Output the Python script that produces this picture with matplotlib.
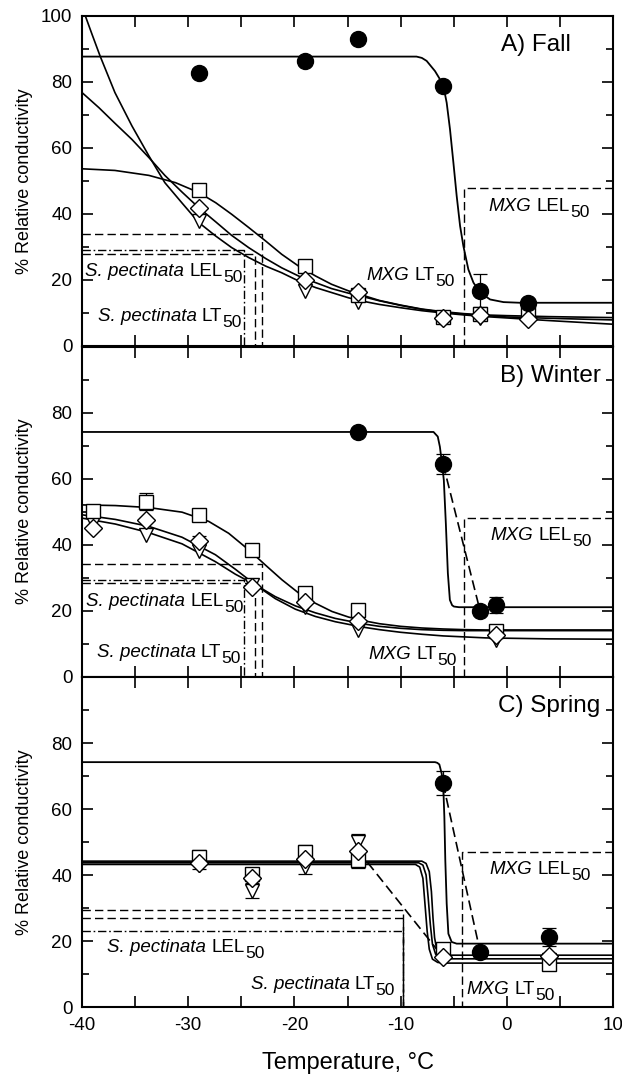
import matplotlib
matplotlib.use("Agg")
import matplotlib.pyplot as plt

plt.rcParams['font.family'] = ['Liberation Sans', 'DejaVu Sans']
plt.rcParams['axes.unicode_minus'] = False

# --- data ---
# A) Fall
temps_A = [-29, -19, -14, -6, -2.5, 2]
mxg_A = [82.7, 86.5, 92.9, 78.8, 16.7, 13.1]
mxg_err_A = [0, 0, 0, 0, 5.0, 0]
sq_A = [47.4, 24.2, 15.5, 8.8, 9.8, 10.4]
di_A = [41.9, 19.9, 16.5, 8.6, 9.3, 8.2]
tr_A = [37.9, 16.8, 13.3, 8.3, 8.6, 9.0]

mxg_fit_A_x = [-40, -8.5, -8.0, -7.55, -6.76, -6.29, -5.97, -5.66, -5.35, -5.03, -4.72,
               -4.40, -4.09, -3.62, -3.14, -2.52, -1.57, -0.31, 1.26, 10]
mxg_fit_A_y = [87.7, 87.7, 87.3, 86.4, 83.3, 80.8, 78.8, 73.7, 65.7, 55.6, 45.5,
               36.4, 30.3, 23.2, 19.2, 16.2, 14.1, 13.3, 13.1, 13.1]
sq_fit_A_x = [-40, -36.9, -33.7, -31.2, -29.0, -27.4, -25.9, -24.3, -22.7, -21.2, -19.6,
              -18.0, -16.5, -14.9, -13.6, -12, -10, -8, -6, -4, -2, 0, 4, 10]
sq_fit_A_y = [53.7, 53.2, 51.7, 49.5, 46.5, 43.4, 39.9, 35.9, 31.8, 27.8, 24.2,
              21.2, 18.7, 16.7, 15.4, 13.8, 12.4, 11.2, 10.4, 9.8, 9.4, 9.2, 8.9, 8.6]
di_fit_A_x = [-40, -38.4, -36.9, -35.3, -33.7, -32.2, -30.6, -29.0, -27.4, -25.9, -24.3,
              -22.7, -21.2, -19.6, -18.0, -16.5, -14.9, -13.6, -12, -10, -8, -6, -4, -2, 0, 4, 10]
di_fit_A_y = [76.8, 72.2, 67.5, 62.6, 57.1, 51.7, 46.7, 41.9, 37.6, 33.5, 29.8,
              26.5, 23.7, 21.2, 19.2, 17.4, 16.0, 15.0, 13.7, 12.3, 11.1, 10.2, 9.6, 9.2, 8.8, 8.4, 7.9]
tr_fit_A_x = [-40, -39.05, -38.3, -36.9, -35.3, -33.7, -32.2, -30.6, -29.0, -27.4, -25.9, -24.3,
              -22.7, -21.2, -19.6, -18.0, -16.5, -14.9, -13.6, -12, -10, -8, -6, -4, -2, 0, 4, 10]
tr_fit_A_y = [102.8, 94.4, 87.9, 76.8, 66.7, 57.6, 49.5, 43.4, 37.4, 33.3, 29.8, 26.8,
              24.2, 22.2, 19.7, 17.7, 16.2, 14.6, 13.6, 12.6, 11.6, 10.7, 10.0, 9.4, 8.9, 8.5, 7.7, 6.6]

# B) Winter
temps_B = [-39, -34, -29, -24, -19, -14, -1]
sq_B = [50.2, 53.0, 49.0, 38.4, 25.3, 20.2, 13.9]
sq_err_B = [1.5, 2.5, 1.5, 0.8, 1.2, 1.0, 1.0]
di_B = [44.9, 47.3, 41.2, 27.1, 22.7, 16.7, 12.6]
di_err_B = [0, 0, 1.5, 0, 0, 0, 0]
tr_B = [46.5, 42.9, 37.9, 27.8, 21.2, 14.1, 11.1]
mxg_temps_B = [-14, -6, -2.5, -1]
mxg_B = [74.1, 64.4, 19.7, 21.7]
mxg_err_B = [0, 2.9, 0, 2.4]

mxg_fit_B_x = [-40, -6.9, -6.5, -6.3, -6.1, -5.93, -5.74, -5.55, -5.36, -5.15, -4.98, -4.5, 10]
mxg_fit_B_y = [74.1, 74.1, 72.7, 69.6, 64.5, 59.5, 46.4, 31.3, 23.2, 21.6, 21.2, 21.0, 21.0]
sq_fit_B_x = [-40, -36.86, -33.72, -30.58, -28.07, -26.19, -24.31, -22.74, -21.17, -19.60,
              -18.03, -16.46, -14.89, -13.63, -12, -10, -8, -6, -4, -2, 0, 4, 10]
sq_fit_B_y = [52.0, 51.8, 51.2, 49.8, 47.0, 43.4, 38.4, 33.8, 29.3, 25.3,
              22.2, 19.7, 18.0, 17.0, 16.0, 15.2, 14.7, 14.4, 14.2, 14.1, 14.1, 14.1, 14.1]
lo_fit_B_x = [-40, -36.86, -33.72, -30.58, -27.44, -25.56, -23.68, -21.80, -19.91, -18.03,
              -16.15, -13.63, -12, -10, -8, -6, -4, -2, 0, 4, 10]
di_fit_B_y = [49.0, 47.6, 45.5, 42.2, 36.9, 32.5, 27.8, 23.6, 20.4, 18.2,
              16.6, 15.0, 14.2, 13.4, 12.8, 12.3, 12.0, 11.7, 11.6, 11.4, 11.3]
tr_fit_B_y = [48.0, 46.2, 43.6, 40.2, 34.8, 31.0, 27.8, 24.2, 21.4, 19.3,
              17.6, 16.0, 15.2, 14.6, 14.2, 14.0, 13.9, 13.9, 13.9, 13.9, 13.9]

# C) Spring
temps_C = [-29, -24, -19, -14, -6, 4]
sq_C = [45.4, 40.2, 46.9, 44.4, 17.6, 13.1]
sq_err_C = [2.2, 1.7, 2.3, 2.2, 1.0, 1.0]
di_C = [43.6, 39.2, 44.9, 47.4, 15.1, 15.6]
tr_C = [42.9, 35.3, 42.4, 49.9, 17.2, 14.1]
tr_err_C = [1.0, 2.3, 2.0, 2.4, 1.0, 1.0]
mxg_temps_C = [-6, -2.5, 4]
mxg_C = [67.8, 16.6, 21.2]
mxg_err_C = [3.6, 0, 2.7]

mxg_fit_C_x = [-40, -6.76, -6.55, -6.35, -6.13, -5.97, -5.88, -5.79, -5.66, -5.50, -5.19, -4.72, 10]
mxg_fit_C_y = [74.2, 74.2, 74.0, 73.5, 70.7, 65.7, 57.6, 44.4, 31.3, 22.2, 19.7, 19.2, 19.2]
c1_fit_C_x = [-40, -8.0, -7.6, -7.3, -7.1, -6.95, -6.8, -6.6, -6.3, -5.8, 10]
c1_fit_C_y = [44.2, 44.2, 43.5, 41.0, 35.0, 27.0, 21.0, 17.5, 16.0, 15.7, 15.7]
c2_fit_C_x = [-40, -8.3, -7.9, -7.6, -7.4, -7.2, -7.0, -6.7, -6.3, -5.8, 10]
c2_fit_C_y = [43.7, 43.7, 43.0, 40.0, 33.0, 25.0, 19.0, 16.0, 14.8, 14.6, 14.6]
c3_fit_C_x = [-40, -8.6, -8.2, -7.9, -7.7, -7.5, -7.3, -7.0, -6.5, -5.8, 10]
c3_fit_C_y = [43.2, 43.2, 42.4, 39.0, 31.0, 23.0, 17.5, 14.5, 13.5, 13.3, 13.3]

# LT50 / LEL50 reference levels (y level, temperature)
sp_y_A = [33.8, 29.0, 28.0]
sp_x_A = [-23.05, -24.7, -23.75]
sp_y_B = [34.1, 29.3, 28.3]
sp_x_B = [-23.05, -24.7, -23.75]
sp_y_C = [29.3, 27.0, 23.1]
sp_x_C = [-9.8, -9.8, -9.8]
mxg_lel_y = [48.0, 47.9, 47.0]
mxg_lel_x = [-4.05, -4.05, -4.2]

panel_titles = ['A) Fall', 'B) Winter', 'C) Spring']

DASH = (6, 3)
DASHDOT = (6, 2, 1.2, 2)


def sub_label(ax, x, y, ital, plain):
    t1 = ax.text(x, y, ital, fontsize=13.5, style='italic', ha='left', va='baseline')
    t2 = ax.annotate(plain, xy=(1, 0), xycoords=t1, xytext=(3.7, 0),
                     textcoords='offset points', fontsize=13.5, ha='left', va='bottom')
    ax.annotate('50', xy=(1, 0), xycoords=t2, xytext=(0.3, -3.6),
                textcoords='offset points', fontsize=12.5, ha='left', va='bottom')


def errbars(ax, x, y, e):
    xs = [a for a, b in zip(x, e) if b > 0]
    ys = [a for a, b in zip(y, e) if b > 0]
    es = [b for b in e if b > 0]
    if xs:
        ax.errorbar(xs, ys, yerr=es, fmt='none', ecolor='k', elinewidth=0.9,
                    capsize=5, capthick=0.9, zorder=2.5)


def open_markers(ax, x, sq, di, tr):
    ax.plot(x, tr, 'v', ms=10, mfc='white', mec='k', mew=1, zorder=3)
    ax.plot(x, sq, 's', ms=9.5, mfc='white', mec='k', mew=1, zorder=3.1)
    ax.plot(x, di, 'D', ms=9, mfc='white', mec='k', mew=1, zorder=3.2)


def sp_lines(ax, ys, xs, styles):
    for yl, xe, st in zip(ys, xs, styles):
        ax.plot([-40, xe, xe], [yl, yl, 0], color='k', lw=1, dashes=st, zorder=1.5)


def mxg_box(ax, yl, xe):
    ax.plot([10, xe, xe], [yl, yl, 0], color='k', lw=1, dashes=DASH, zorder=1.5)


fig = plt.figure(figsize=(6.22, 10.85), dpi=100)
left = 82 / 622
width = 531 / 622
h = 330 / 1085
bottoms = [(1085 - 346) / 1085, (1085 - 676.5) / 1085, (1085 - 1007) / 1085]
axes = [fig.add_axes([left, b, width, h]) for b in bottoms]

for i, ax in enumerate(axes):
    ax.set_xlim(-40, 10)
    ax.set_ylim(0, 100)
    ax.set_xticks(range(-40, 11, 10))
    ax.set_xticks(range(-35, 10, 10), minor=True)
    if i == 0:
        ax.set_yticks(range(0, 101, 20))
    else:
        ax.set_yticks(range(0, 81, 20))
    ax.set_yticks(range(10, 100, 20), minor=True)
    ax.tick_params(which='both', direction='in', top=True, right=True, width=1.2,
                   labelsize=13.5, pad=7)
    ax.tick_params(axis='x', which='both', length=8)
    ax.tick_params(axis='y', which='major', length=8)
    ax.tick_params(axis='y', which='minor', length=5)
    if i < 2:
        ax.tick_params(axis='x', labelbottom=False)
    for s in ax.spines.values():
        s.set_linewidth(1.5)
    ax.set_ylabel('% Relative conductivity', fontsize=13)
    ax.yaxis.set_label_coords(-0.092, 0.5)

# --- A) Fall ---
ax = axes[0]
sp_lines(ax, sp_y_A, sp_x_A, [DASH, DASHDOT, DASH])
mxg_box(ax, mxg_lel_y[0], mxg_lel_x[0])
ax.plot(mxg_fit_A_x, mxg_fit_A_y, 'k-', lw=1.3, zorder=2)
ax.plot(sq_fit_A_x, sq_fit_A_y, 'k-', lw=1.2, zorder=2)
ax.plot(di_fit_A_x, di_fit_A_y, 'k-', lw=1.2, zorder=2)
ax.plot(tr_fit_A_x, tr_fit_A_y, 'k-', lw=1.2, zorder=2)
errbars(ax, temps_A, mxg_A, mxg_err_A)
open_markers(ax, temps_A, sq_A, di_A, tr_A)
ax.plot(temps_A, mxg_A, 'o', ms=11.5, color='k', zorder=4)
sub_label(ax, -39.7, 21.2, 'S. pectinata', 'LEL')
sub_label(ax, -38.5, 7.5, 'S. pectinata', 'LT')
sub_label(ax, -1.7, 41.0, 'MXG', 'LEL')
sub_label(ax, -13.2, 20.0, 'MXG', 'LT')
ax.text(6.0, 89.3, panel_titles[0], fontsize=17.5, ha='right', va='baseline')

# --- B) Winter ---
ax = axes[1]
sp_lines(ax, sp_y_B, sp_x_B, [DASH, DASHDOT, DASH])
mxg_box(ax, mxg_lel_y[1], mxg_lel_x[1])
ax.plot(mxg_fit_B_x, mxg_fit_B_y, 'k-', lw=1.3, zorder=2)
ax.plot(mxg_temps_B[1:3], mxg_B[1:3], color='k', lw=1.2, dashes=DASH, zorder=2)
ax.plot(sq_fit_B_x, sq_fit_B_y, 'k-', lw=1.2, zorder=2)
ax.plot(lo_fit_B_x, di_fit_B_y, 'k-', lw=1.2, zorder=2)
ax.plot(lo_fit_B_x, tr_fit_B_y, 'k-', lw=1.2, zorder=2)
errbars(ax, temps_B, sq_B, sq_err_B)
errbars(ax, temps_B, di_B, di_err_B)
errbars(ax, mxg_temps_B, mxg_B, mxg_err_B)
open_markers(ax, temps_B, sq_B, di_B, tr_B)
ax.plot(mxg_temps_B, mxg_B, 'o', ms=11.5, color='k', zorder=4)
sub_label(ax, -39.6, 21.4, 'S. pectinata', 'LEL')
sub_label(ax, -38.6, 5.9, 'S. pectinata', 'LT')
sub_label(ax, -1.5, 41.4, 'MXG', 'LEL')
sub_label(ax, -13.0, 5.3, 'MXG', 'LT')
ax.text(8.9, 89.2, panel_titles[1], fontsize=17.5, ha='right', va='baseline')

# --- C) Spring ---
ax = axes[2]
sp_lines(ax, sp_y_C, sp_x_C, [DASH, DASH, DASHDOT])
mxg_box(ax, mxg_lel_y[2], mxg_lel_x[2])
ax.plot(mxg_fit_C_x, mxg_fit_C_y, 'k-', lw=1.3, zorder=2)
ax.plot(mxg_temps_C[0:2], mxg_C[0:2], color='k', lw=1.2, dashes=DASH, zorder=2)
ax.plot(temps_C[3:5], di_C[3:5], color='k', lw=1.2, dashes=DASH, zorder=2)
ax.plot(c1_fit_C_x, c1_fit_C_y, 'k-', lw=1.2, zorder=2)
ax.plot(c2_fit_C_x, c2_fit_C_y, 'k-', lw=1.2, zorder=2)
ax.plot(c3_fit_C_x, c3_fit_C_y, 'k-', lw=1.2, zorder=2)
errbars(ax, temps_C, sq_C, sq_err_C)
errbars(ax, temps_C, tr_C, tr_err_C)
errbars(ax, mxg_temps_C, mxg_C, mxg_err_C)
open_markers(ax, temps_C, sq_C, di_C, tr_C)
ax.plot(mxg_temps_C, mxg_C, 'o', ms=11.5, color='k', zorder=4)
sub_label(ax, -37.6, 16.8, 'S. pectinata', 'LEL')
sub_label(ax, -24.1, 5.5, 'S. pectinata', 'LT')
sub_label(ax, -1.6, 40.2, 'MXG', 'LEL')
sub_label(ax, -3.8, 4.0, 'MXG', 'LT')
ax.text(8.8, 89.5, panel_titles[2], fontsize=17.5, ha='right', va='baseline')

fig.text(347.5 / 622, 1 - 1063 / 1085, 'Temperature, °C', fontsize=17, ha='center', va='center')

fig.savefig('out.png', dpi=100)
